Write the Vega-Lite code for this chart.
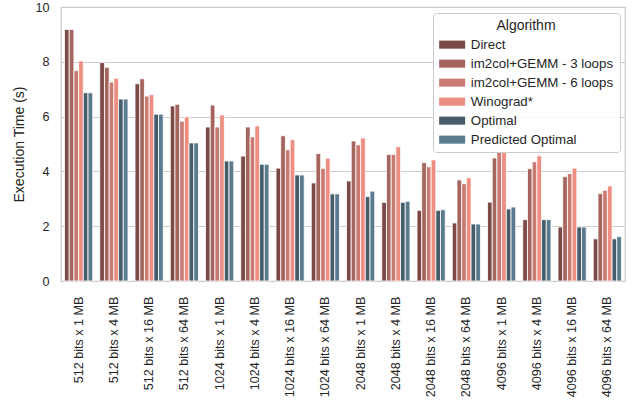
{
  "$schema": "https://vega.github.io/schema/vega-lite/v6.json",
  "autosize": "none",
  "width": 564,
  "height": 274,
  "padding": {"left": 61, "top": 7, "right": 16, "bottom": 125},
  "config": {
    "font": "Liberation Sans",
    "view": {"stroke": "#cccccc", "strokeWidth": 1.25},
    "axis": {"labelColor": "#262626", "titleColor": "#262626", "labelFont": "Liberation Sans", "titleFont": "Liberation Sans"},
    "legend": {"labelFont": "Liberation Sans", "titleFont": "Liberation Sans"}
  },
  "data": {"values": [
    {"cfg": "512 bits x 1 MB", "alg": "Direct", "t": 9.18},
    {"cfg": "512 bits x 1 MB", "alg": "im2col+GEMM - 3 loops", "t": 9.18},
    {"cfg": "512 bits x 1 MB", "alg": "im2col+GEMM - 6 loops", "t": 7.68},
    {"cfg": "512 bits x 1 MB", "alg": "Winograd*", "t": 8.03},
    {"cfg": "512 bits x 1 MB", "alg": "Optimal", "t": 6.87},
    {"cfg": "512 bits x 1 MB", "alg": "Predicted Optimal", "t": 6.87},
    {"cfg": "512 bits x 4 MB", "alg": "Direct", "t": 7.97},
    {"cfg": "512 bits x 4 MB", "alg": "im2col+GEMM - 3 loops", "t": 7.80},
    {"cfg": "512 bits x 4 MB", "alg": "im2col+GEMM - 6 loops", "t": 7.26},
    {"cfg": "512 bits x 4 MB", "alg": "Winograd*", "t": 7.40},
    {"cfg": "512 bits x 4 MB", "alg": "Optimal", "t": 6.64},
    {"cfg": "512 bits x 4 MB", "alg": "Predicted Optimal", "t": 6.64},
    {"cfg": "512 bits x 16 MB", "alg": "Direct", "t": 7.20},
    {"cfg": "512 bits x 16 MB", "alg": "im2col+GEMM - 3 loops", "t": 7.38},
    {"cfg": "512 bits x 16 MB", "alg": "im2col+GEMM - 6 loops", "t": 6.75},
    {"cfg": "512 bits x 16 MB", "alg": "Winograd*", "t": 6.80},
    {"cfg": "512 bits x 16 MB", "alg": "Optimal", "t": 6.09},
    {"cfg": "512 bits x 16 MB", "alg": "Predicted Optimal", "t": 6.09},
    {"cfg": "512 bits x 64 MB", "alg": "Direct", "t": 6.39},
    {"cfg": "512 bits x 64 MB", "alg": "im2col+GEMM - 3 loops", "t": 6.45},
    {"cfg": "512 bits x 64 MB", "alg": "im2col+GEMM - 6 loops", "t": 5.83},
    {"cfg": "512 bits x 64 MB", "alg": "Winograd*", "t": 5.99},
    {"cfg": "512 bits x 64 MB", "alg": "Optimal", "t": 5.04},
    {"cfg": "512 bits x 64 MB", "alg": "Predicted Optimal", "t": 5.04},
    {"cfg": "1024 bits x 1 MB", "alg": "Direct", "t": 5.62},
    {"cfg": "1024 bits x 1 MB", "alg": "im2col+GEMM - 3 loops", "t": 6.42},
    {"cfg": "1024 bits x 1 MB", "alg": "im2col+GEMM - 6 loops", "t": 5.62},
    {"cfg": "1024 bits x 1 MB", "alg": "Winograd*", "t": 6.06},
    {"cfg": "1024 bits x 1 MB", "alg": "Optimal", "t": 4.38},
    {"cfg": "1024 bits x 1 MB", "alg": "Predicted Optimal", "t": 4.38},
    {"cfg": "1024 bits x 4 MB", "alg": "Direct", "t": 4.56},
    {"cfg": "1024 bits x 4 MB", "alg": "im2col+GEMM - 3 loops", "t": 5.62},
    {"cfg": "1024 bits x 4 MB", "alg": "im2col+GEMM - 6 loops", "t": 5.26},
    {"cfg": "1024 bits x 4 MB", "alg": "Winograd*", "t": 5.66},
    {"cfg": "1024 bits x 4 MB", "alg": "Optimal", "t": 4.26},
    {"cfg": "1024 bits x 4 MB", "alg": "Predicted Optimal", "t": 4.26},
    {"cfg": "1024 bits x 16 MB", "alg": "Direct", "t": 4.12},
    {"cfg": "1024 bits x 16 MB", "alg": "im2col+GEMM - 3 loops", "t": 5.30},
    {"cfg": "1024 bits x 16 MB", "alg": "im2col+GEMM - 6 loops", "t": 4.79},
    {"cfg": "1024 bits x 16 MB", "alg": "Winograd*", "t": 5.16},
    {"cfg": "1024 bits x 16 MB", "alg": "Optimal", "t": 3.87},
    {"cfg": "1024 bits x 16 MB", "alg": "Predicted Optimal", "t": 3.87},
    {"cfg": "1024 bits x 64 MB", "alg": "Direct", "t": 3.58},
    {"cfg": "1024 bits x 64 MB", "alg": "im2col+GEMM - 3 loops", "t": 4.65},
    {"cfg": "1024 bits x 64 MB", "alg": "im2col+GEMM - 6 loops", "t": 4.11},
    {"cfg": "1024 bits x 64 MB", "alg": "Winograd*", "t": 4.48},
    {"cfg": "1024 bits x 64 MB", "alg": "Optimal", "t": 3.18},
    {"cfg": "1024 bits x 64 MB", "alg": "Predicted Optimal", "t": 3.18},
    {"cfg": "2048 bits x 1 MB", "alg": "Direct", "t": 3.65},
    {"cfg": "2048 bits x 1 MB", "alg": "im2col+GEMM - 3 loops", "t": 5.11},
    {"cfg": "2048 bits x 1 MB", "alg": "im2col+GEMM - 6 loops", "t": 4.97},
    {"cfg": "2048 bits x 1 MB", "alg": "Winograd*", "t": 5.22},
    {"cfg": "2048 bits x 1 MB", "alg": "Optimal", "t": 3.08},
    {"cfg": "2048 bits x 1 MB", "alg": "Predicted Optimal", "t": 3.28},
    {"cfg": "2048 bits x 4 MB", "alg": "Direct", "t": 2.87},
    {"cfg": "2048 bits x 4 MB", "alg": "im2col+GEMM - 3 loops", "t": 4.62},
    {"cfg": "2048 bits x 4 MB", "alg": "im2col+GEMM - 6 loops", "t": 4.62},
    {"cfg": "2048 bits x 4 MB", "alg": "Winograd*", "t": 4.90},
    {"cfg": "2048 bits x 4 MB", "alg": "Optimal", "t": 2.87},
    {"cfg": "2048 bits x 4 MB", "alg": "Predicted Optimal", "t": 2.91},
    {"cfg": "2048 bits x 16 MB", "alg": "Direct", "t": 2.58},
    {"cfg": "2048 bits x 16 MB", "alg": "im2col+GEMM - 3 loops", "t": 4.32},
    {"cfg": "2048 bits x 16 MB", "alg": "im2col+GEMM - 6 loops", "t": 4.17},
    {"cfg": "2048 bits x 16 MB", "alg": "Winograd*", "t": 4.42},
    {"cfg": "2048 bits x 16 MB", "alg": "Optimal", "t": 2.58},
    {"cfg": "2048 bits x 16 MB", "alg": "Predicted Optimal", "t": 2.60},
    {"cfg": "2048 bits x 64 MB", "alg": "Direct", "t": 2.12},
    {"cfg": "2048 bits x 64 MB", "alg": "im2col+GEMM - 3 loops", "t": 3.69},
    {"cfg": "2048 bits x 64 MB", "alg": "im2col+GEMM - 6 loops", "t": 3.55},
    {"cfg": "2048 bits x 64 MB", "alg": "Winograd*", "t": 3.77},
    {"cfg": "2048 bits x 64 MB", "alg": "Optimal", "t": 2.08},
    {"cfg": "2048 bits x 64 MB", "alg": "Predicted Optimal", "t": 2.08},
    {"cfg": "4096 bits x 1 MB", "alg": "Direct", "t": 2.88},
    {"cfg": "4096 bits x 1 MB", "alg": "im2col+GEMM - 3 loops", "t": 4.49},
    {"cfg": "4096 bits x 1 MB", "alg": "im2col+GEMM - 6 loops", "t": 4.70},
    {"cfg": "4096 bits x 1 MB", "alg": "Winograd*", "t": 4.77},
    {"cfg": "4096 bits x 1 MB", "alg": "Optimal", "t": 2.63},
    {"cfg": "4096 bits x 1 MB", "alg": "Predicted Optimal", "t": 2.70},
    {"cfg": "4096 bits x 4 MB", "alg": "Direct", "t": 2.24},
    {"cfg": "4096 bits x 4 MB", "alg": "im2col+GEMM - 3 loops", "t": 4.10},
    {"cfg": "4096 bits x 4 MB", "alg": "im2col+GEMM - 6 loops", "t": 4.35},
    {"cfg": "4096 bits x 4 MB", "alg": "Winograd*", "t": 4.57},
    {"cfg": "4096 bits x 4 MB", "alg": "Optimal", "t": 2.24},
    {"cfg": "4096 bits x 4 MB", "alg": "Predicted Optimal", "t": 2.24},
    {"cfg": "4096 bits x 16 MB", "alg": "Direct", "t": 1.97},
    {"cfg": "4096 bits x 16 MB", "alg": "im2col+GEMM - 3 loops", "t": 3.81},
    {"cfg": "4096 bits x 16 MB", "alg": "im2col+GEMM - 6 loops", "t": 3.92},
    {"cfg": "4096 bits x 16 MB", "alg": "Winograd*", "t": 4.12},
    {"cfg": "4096 bits x 16 MB", "alg": "Optimal", "t": 1.97},
    {"cfg": "4096 bits x 16 MB", "alg": "Predicted Optimal", "t": 1.97},
    {"cfg": "4096 bits x 64 MB", "alg": "Direct", "t": 1.54},
    {"cfg": "4096 bits x 64 MB", "alg": "im2col+GEMM - 3 loops", "t": 3.19},
    {"cfg": "4096 bits x 64 MB", "alg": "im2col+GEMM - 6 loops", "t": 3.31},
    {"cfg": "4096 bits x 64 MB", "alg": "Winograd*", "t": 3.47},
    {"cfg": "4096 bits x 64 MB", "alg": "Optimal", "t": 1.54},
    {"cfg": "4096 bits x 64 MB", "alg": "Predicted Optimal", "t": 1.62}
  ]},
  "mark": {"type": "bar", "stroke": "white", "strokeWidth": 0.8},
  "encoding": {
    "x": {
      "field": "cfg", "type": "nominal", "sort": null, "title": null,
      "scale": {"paddingInner": 0.2, "paddingOuter": 0.1},
      "axis": {"labelAngle": -90, "labelFontSize": 12.6, "labelPadding": 15, "ticks": false, "domain": false, "grid": false}
    },
    "xOffset": {
      "field": "alg", "type": "nominal",
      "sort": ["Direct", "im2col+GEMM - 3 loops", "im2col+GEMM - 6 loops", "Winograd*", "Optimal", "Predicted Optimal"],
      "scale": {"paddingInner": 0, "paddingOuter": 0}
    },
    "y": {
      "field": "t", "type": "quantitative", "title": "Execution Time (s)",
      "scale": {"domain": [0, 10], "nice": false},
      "axis": {"values": [0, 2, 4, 6, 8, 10], "labelFontSize": 12.6, "titleFontSize": 14, "titleFontWeight": "normal", "labelPadding": 12, "titlePadding": 8, "ticks": false, "domain": false, "grid": true, "gridColor": "#cccccc", "gridWidth": 1}
    },
    "color": {
      "field": "alg", "type": "nominal", "title": "Algorithm",
      "sort": ["Direct", "im2col+GEMM - 3 loops", "im2col+GEMM - 6 loops", "Winograd*", "Optimal", "Predicted Optimal"],
      "scale": {
        "domain": ["Direct", "im2col+GEMM - 3 loops", "im2col+GEMM - 6 loops", "Winograd*", "Optimal", "Predicted Optimal"],
        "range": ["#7b4a47", "#a5655f", "#c97a72", "#ee8d81", "#465c69", "#5a7b8e"]
      },
      "legend": {
        "orient": "none", "legendX": 372, "legendY": 6,
        "fillColor": "rgba(255,255,255,0.85)", "strokeColor": "#cccccc", "cornerRadius": 3,
        "padding": 6, "titleAnchor": "middle", "titleFontSize": 14, "titleFontWeight": "normal", "titleColor": "#262626", "titlePadding": 5,
        "labelFontSize": 13.3, "labelColor": "#262626", "labelOffset": 12, "rowPadding": 5,
        "symbolType": "M-2,-0.62H2V0.62H-2Z", "symbolSize": 169, "symbolOffset": 6.5, "symbolStrokeWidth": 0, "symbolOpacity": 1
      }
    }
  }
}
